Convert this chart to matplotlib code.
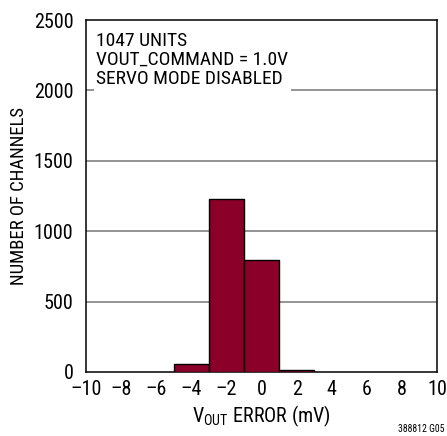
import matplotlib.pyplot as plt
import numpy as np

plt.rcParams["font.family"] = ["Roboto Condensed", "Archivo Narrow", "DejaVu Sans"]
plt.rcParams["mathtext.fontset"] = "custom"
plt.rcParams["mathtext.rm"] = "Roboto Condensed"

bin_edges = [-5, -3, -1, 1, 3]
counts = [55, 1230, 795, 14]
x_ticks = [-10, -8, -6, -4, -2, 0, 2, 4, 6, 8, 10]
y_ticks = [0, 500, 1000, 1500, 2000, 2500]
info_lines = ["1047 UNITS", "VOUT_COMMAND = 1.0V", "SERVO MODE DISABLED"]

fig = plt.figure(figsize=(4.47, 4.36), dpi=100)
ax = fig.add_axes([0.192, 0.147, 0.786, 0.807])

widths = np.diff(bin_edges)
ax.bar(bin_edges[:-1], counts, width=widths, align="edge",
       color="#8b0029", edgecolor="black", linewidth=1.0, zorder=3)

for y in y_ticks[1:-1]:
    ax.axhline(y, color="#808080", linewidth=1.2, zorder=1)

ax.set_xlim(-10, 10)
ax.set_ylim(0, 2500)
ax.set_xticks(x_ticks)
ax.set_xticklabels(["\u2013" + str(-v) if v < 0 else str(v) for v in x_ticks])
ax.set_yticks(y_ticks)
ax.tick_params(axis="y", length=0, labelsize=14.5, pad=9)
ax.tick_params(axis="x", length=0, labelsize=14.5, pad=6)
for s in ax.spines.values():
    s.set_linewidth(1.1)

ax.text(-9.4, 2415, "\n".join(info_lines), fontsize=14, va="top", ha="left",
        linespacing=1.08, zorder=5,
        bbox=dict(facecolor="white", edgecolor="none", pad=2))

ax.set_xlabel("V$_{\\mathregular{OUT}}$ ERROR (mV)", fontsize=14.5, labelpad=3)
ax.set_ylabel("NUMBER OF CHANNELS", fontsize=13.5, labelpad=4)

fig.text(0.995, 0.004, "388812 G05", fontsize=7, ha="right", va="bottom")

plt.savefig("out.png", dpi=100)
